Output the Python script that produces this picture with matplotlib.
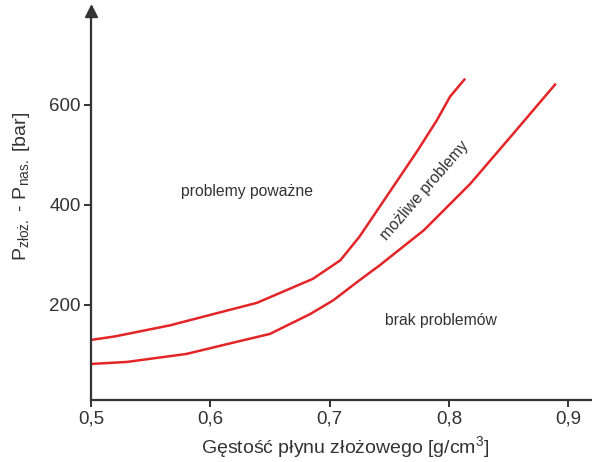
import matplotlib
matplotlib.use("Agg")
import matplotlib.pyplot as plt

plt.rcParams['font.family'] = ['Liberation Sans', 'DejaVu Sans']
plt.rcParams['mathtext.fontset'] = 'custom'
plt.rcParams['mathtext.rm'] = 'Liberation Sans'

# upper boundary: problemy powazne / mozliwe problemy
upper_x = [0.5, 0.52, 0.566, 0.60, 0.639, 0.686, 0.709, 0.725, 0.742, 0.759, 0.774, 0.790, 0.801, 0.813]
upper_y = [130, 137, 159, 180, 204, 252, 289, 336, 396, 456, 509, 569, 616, 650]

# lower boundary: mozliwe problemy / brak problemow
lower_x = [0.5, 0.53, 0.580, 0.62, 0.650, 0.684, 0.703, 0.725, 0.742, 0.779, 0.818, 0.854, 0.889]
lower_y = [82, 86, 102, 125, 142, 182, 209, 249, 279, 349, 442, 542, 640]

xticks = [0.5, 0.6, 0.7, 0.8, 0.9]
xtick_labels = ['0,5', '0,6', '0,7', '0,8', '0,9']
yticks = [200, 400, 600]

red = '#e42528'
dark = '#333333'

fig = plt.figure(figsize=(5.92, 4.62), dpi=100)
ax = fig.add_axes([0.1537, 0.1342, 0.8463, 0.842])

ax.plot(upper_x, upper_y, color=red, lw=1.8, solid_joinstyle='round')
ax.plot(lower_x, lower_y, color=red, lw=1.8, solid_joinstyle='round')

ax.set_xlim(0.5, 0.92)
ax.set_ylim(10, 787)
ax.set_xticks(xticks, labels=xtick_labels)
ax.set_yticks(yticks)

for s in ['top', 'right']:
    ax.spines[s].set_visible(False)
for s in ['left', 'bottom']:
    ax.spines[s].set_color(dark)
    ax.spines[s].set_linewidth(1.6)
ax.tick_params(direction='out', length=5, width=1.4, color=dark,
               labelsize=13.5, labelcolor=dark, pad=2.5)

# arrow on the y axis
ax.plot(0, 1, marker='^', color=dark, markersize=8, transform=ax.transAxes, clip_on=False)

ax.set_xlabel('Gęstość płynu złożowego [g/cm$^{\\mathregular{3}}$]', fontsize=14, color=dark)
ax.xaxis.set_label_coords(0.508, -0.088)
ax.set_ylabel('P$_{\\mathregular{złoż.}}$ - P$_{\\mathregular{nas.}}$ [bar]', fontsize=14, color=dark)
ax.yaxis.set_label_coords(-0.118, 0.55)

ax.text(0.631, 426, 'problemy poważne', fontsize=11.3, color=dark, ha='center', va='center')
ax.text(0.793, 169, 'brak problemów', fontsize=11.3, color=dark, ha='center', va='center')
ax.text(0.780, 429, 'możliwe problemy', fontsize=11.3, color=dark, ha='center', va='center',
        rotation=49, rotation_mode='anchor')

fig.savefig('out.png', dpi=100)
